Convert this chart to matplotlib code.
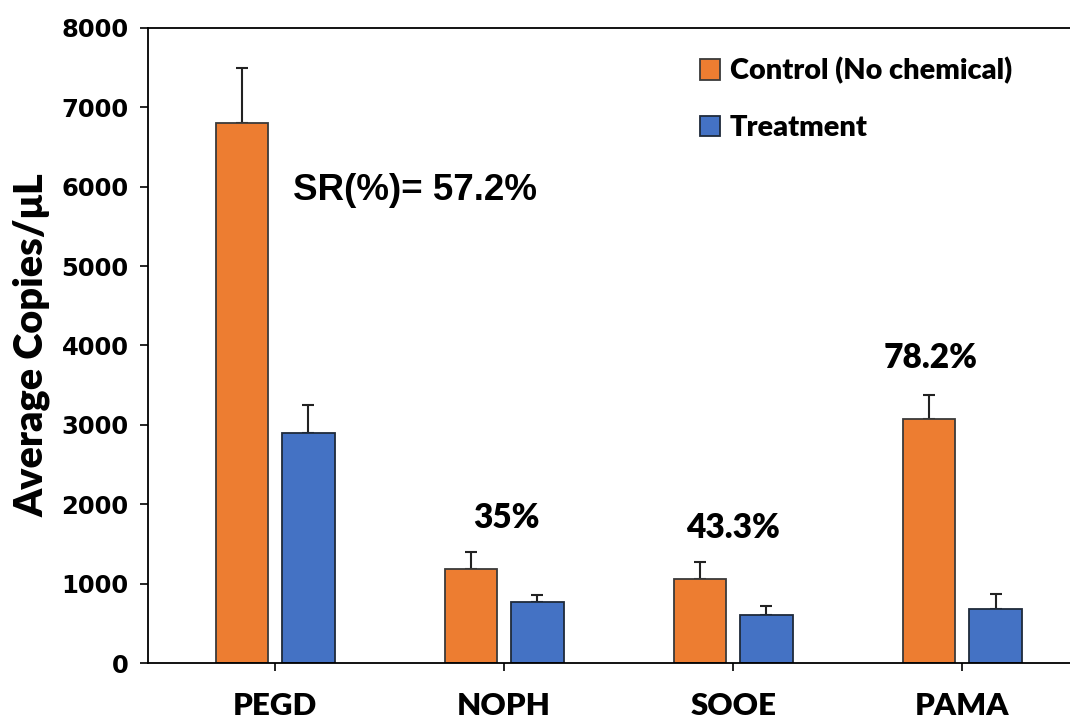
import numpy as np
import matplotlib
matplotlib.use('Agg')
from matplotlib import pyplot as plt

categories = ['PEGD', 'NOPH', 'SOOE', 'PAMA']
control = [6800, 1190, 1060, 3070]
control_err = [690, 210, 215, 310]
treatment = [2900, 770, 605, 680]
treatment_err = [350, 90, 115, 190]
sr_labels = ['SR(%)= 57.2%', '35%', '43.3%', '78.2%']
sr_pos = [(0.08, 5950), (1.01, 1830), (2.0, 1700), (2.86, 3840)]

ORANGE = '#ED7D31'
BLUE = '#4472C4'


def main():
    fig = plt.figure(figsize=(10.7, 7.25), dpi=100)
    ax = fig.add_axes([0.1383, 0.0855, 0.8617, 0.8759])

    x = np.arange(len(categories))
    w = 0.23
    off = 0.145
    ax.bar(x - off, control, w, color=ORANGE, edgecolor='#3a3a3a', linewidth=1.3,
           label='Control (No chemical)', zorder=2)
    ax.bar(x + off, treatment, w, color=BLUE, edgecolor='#1f2a3a', linewidth=1.3,
           label='Treatment', zorder=2)
    ax.errorbar(x - off, control, yerr=[np.zeros(4), control_err], fmt='none',
                ecolor='#222222', elinewidth=1.5, capsize=4.5, capthick=1.5, zorder=1)
    ax.errorbar(x + off, treatment, yerr=[np.zeros(4), treatment_err], fmt='none',
                ecolor='#222222', elinewidth=1.5, capsize=4.5, capthick=1.5, zorder=1)

    ax.set_xlim(-0.555, 3.47)
    ax.set_ylim(0, 8000)
    ax.set_yticks(np.arange(0, 8001, 1000))
    ax.set_xticks(x)
    ax.set_xticklabels(categories, fontfamily='Lato', fontweight='heavy', fontsize=22.5)
    for t in ax.get_yticklabels():
        t.set_fontfamily('DejaVu Sans')
        t.set_fontweight('bold')
        t.set_fontsize(17.5)
    ax.tick_params(axis='y', direction='out', length=6, width=1.2, pad=8)
    ax.tick_params(axis='x', direction='out', length=6, width=1.2, pad=15)

    ax.spines['right'].set_visible(False)
    for s in ['left', 'bottom', 'top']:
        ax.spines[s].set_linewidth(1.3)

    ax.set_ylabel('Average Copies/μL', fontfamily='Lato', fontweight='heavy',
                  fontsize=28.5, labelpad=8)

    # SR annotations
    ax.text(sr_pos[0][0], sr_pos[0][1], sr_labels[0], fontfamily='Liberation Sans',
            fontweight='bold', fontsize=26.5, ha='left', va='center')
    for lab, (px, py) in zip(sr_labels[1:], sr_pos[1:]):
        ax.text(px, py, lab, fontfamily='Lato', fontweight='heavy', fontsize=24,
                ha='center', va='center')

    ax.legend(loc='upper left', bbox_to_anchor=(0.57, 0.995), frameon=False,
              prop={'family': 'Lato', 'weight': 'heavy', 'size': 20.8},
              handlelength=0.7, handleheight=0.7, handletextpad=0.35,
              labelspacing=1.05)

    fig.savefig('out.png', dpi=100)


if __name__ == '__main__':
    main()
